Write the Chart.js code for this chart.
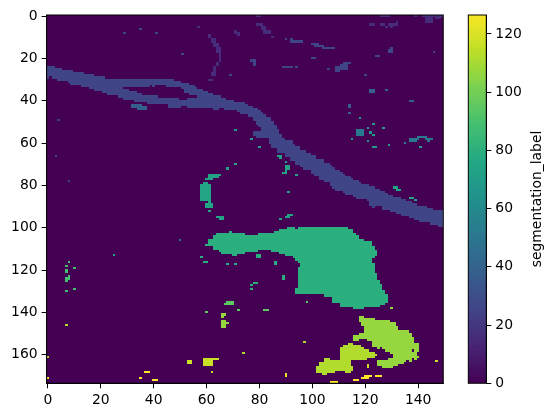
<!DOCTYPE html>
<html><head><meta charset="utf-8">
<style>html,body{margin:0;padding:0;background:#fff}canvas{position:absolute;left:0;top:0}</style>
<script src="https://cdn.jsdelivr.net/npm/chart.js@4"></script>
</head><body>
<canvas id="img" width="552" height="417"></canvas>
<canvas id="bar" width="552" height="417"></canvas>
<script>
const xTicks=[0,20,40,60,80,100,120,140];
const yTicks=[0,20,40,60,80,100,120,140,160];
const cbTicks=[0,20,40,60,80,100,120];
const nCols=150,nRows=174,cbMax=126.5,labelName='segmentation_label';
const viridisStops=['#440154','#482475','#414487','#355f8d','#2a788e','#21918c','#22a884','#44bf70','#7ad151','#bddf26','#fde725'];
// river outline: [end column, row]
const riverTop=[[3,24],[6,25],[10,26],[14,27],[18,28],[22,29],[48,30],[51,31],[54,32],[56,33],[57,34],[59,35],[61,36],[63,37],[66,38],[68,39],[71,40],[75,41],[76,42],[78,43],[80,44],[81,45],[82,46],[83,47],[85,48],[86,50],[87,52],[88,54],[89,56],[90,58],[93,59],[94,61],[96,62],[98,64],[100,65],[102,66],[105,68],[107,70],[108,71],[109,72],[111,73],[112,74],[113,75],[115,76],[116,77],[118,78],[119,79],[122,80],[124,81],[126,82],[128,83],[129,84],[131,85],[134,86],[136,87],[138,88],[140,89],[144,90],[146,91],[150,92]];
const riverBottom=[[1,30],[2,29],[4,30],[8,31],[9,32],[13,33],[16,34],[18,35],[21,36],[23,37],[27,38],[29,39],[33,40],[38,41],[46,42],[51,44],[53,43],[63,44],[65,45],[67,44],[72,45],[73,46],[76,47],[78,48],[79,50],[80,52],[81,53],[84,58],[85,61],[87,63],[90,65],[92,67],[94,69],[96,71],[97,72],[100,73],[101,75],[103,76],[105,78],[107,79],[108,81],[109,82],[112,83],[113,84],[116,85],[117,86],[121,87],[122,88],[123,90],[124,91],[127,90],[130,92],[132,93],[134,94],[137,95],[139,96],[141,97],[145,98],[148,99],[150,100]];
const riverGap=[[29,31,34,35],[31,34,34,36],[34,36,34,37],[36,39,34,38],[39,40,33,38],[40,41,34,38],[41,42,33,38],[42,45,33,39],[45,50,34,39],[50,51,34,40],[51,52,35,40],[52,53,37,40],[53,54,37,39],[54,57,38,39]];
// patches: [column from, column to, row from, row to]
const label16=[[57,58,5,6],[61,62,9,11],[62,64,11,13],[63,65,13,15],[64,66,15,18],[65,66,18,22],[64,65,22,24],[63,64,24,27],[62,64,27,29],[61,63,30,31],[71,72,7,9],[72,73,8,10],[79,82,4,5],[81,83,5,7],[82,85,7,9],[85,86,10,11],[79,81,0,1],[126,130,0,1],[139,140,0,1],[142,150,0,1],[143,146,1,4],[147,149,1,2],[122,124,4,5],[126,128,4,5],[128,129,5,6],[129,132,4,5],[130,131,5,6],[132,133,3,5]];
const label26=[[79,81,55,58],[78,79,55,57],[29,30,8,9],[35,36,6,7],[41,42,8,9],[51,52,18,19],[90,91,11,12],[92,93,11,13],[92,97,12,13],[77,79,21,22],[78,79,22,24],[89,93,24,25],[94,95,24,25],[69,70,28,29],[100,103,13,14],[101,105,14,15],[104,109,15,16],[100,102,20,21],[112,115,22,23],[111,114,23,24],[109,114,24,26],[109,111,26,27],[106,107,25,26],[120,121,28,29],[124,126,19,20],[129,131,16,18],[130,131,15,16],[146,147,17,18],[4,5,49,50],[3,4,66,67],[8,9,78,79]];
const label38=[[32,36,42,44],[34,38,43,45],[122,124,35,37],[128,129,35,36],[137,139,40,41],[114,115,42,44],[114,115,46,47]];
const label51=[[117,120,54,57],[137,140,58,60],[140,144,57,58],[140,141,58,59],[143,146,58,59],[144,145,59,60],[135,136,60,61],[50,51,106,107]];
const label68=[[118,119,48,49],[121,122,53,54],[123,124,51,52],[127,128,53,54],[122,123,55,56],[123,124,56,57],[115,116,58,59],[121,122,59,60],[123,125,62,63],[129,130,61,62],[141,142,62,63],[71,72,54,55],[77,78,58,59],[80,81,62,63]];
const label74=[[131,133,81,82],[132,134,82,83],[137,139,86,87],[139,140,87,88],[87,89,66,67],[88,89,67,68],[90,91,69,70],[90,92,71,73],[90,91,73,74],[89,91,74,75],[94,95,75,76],[91,92,83,84],[71,72,70,71],[68,69,72,73],[61,66,75,76],[61,65,76,77],[60,63,77,78],[59,61,79,80],[58,62,80,88],[61,62,88,89],[60,63,89,91],[61,62,92,93],[64,67,95,96],[65,67,96,97],[91,93,94,95],[90,92,95,96],[88,89,96,97],[25,26,113,114]];
const label80=[[60,61,108,109],[61,63,106,109],[63,64,104,111],[64,65,103,111],[65,66,103,112],[66,69,103,113],[69,70,102,113],[70,72,103,114],[72,75,103,113],[75,80,104,112],[80,85,103,111],[85,86,103,112],[86,88,102,112],[88,90,101,113],[90,91,101,114],[91,93,100,114],[93,94,100,115],[94,95,101,116],[95,96,100,117],[95,96,119,132],[94,95,129,132],[96,105,100,132],[105,108,100,133],[108,111,100,136],[111,114,100,138],[114,116,101,138],[116,117,103,139],[117,118,104,139],[118,120,106,139],[120,123,107,138],[123,124,109,115],[123,124,117,138],[124,125,111,114],[124,125,122,138],[125,126,125,138],[126,127,127,137],[127,128,130,137],[128,129,132,136],[58,59,114,115],[59,61,116,117],[68,69,117,118],[71,72,117,118],[79,81,113,115],[86,87,116,118],[89,90,123,125],[78,80,126,127],[77,78,127,128],[77,78,129,130]];
const label89=[[8,9,116,117],[7,8,118,119],[10,11,119,120],[7,8,120,122],[8,9,123,125],[7,8,124,126],[10,11,129,130],[7,8,130,131]];
const label95=[[68,71,135,137],[67,68,136,137],[98,99,135,136],[82,84,139,140],[72,73,139,140],[60,61,140,141]];
const label107=[[66,68,141,142],[66,67,142,143],[66,68,144,148],[68,69,145,146],[130,131,138,139],[116,118,151,154],[118,119,142,145],[118,119,150,153],[119,120,142,147],[119,120,150,153],[120,121,143,153],[121,123,143,154],[123,124,143,157],[124,125,144,157],[125,126,144,158],[126,127,144,157],[127,128,144,158],[128,130,144,159],[130,131,145,160],[125,127,163,166],[127,129,163,167],[129,130,162,167],[130,131,162,167],[131,132,145,166],[132,133,147,166],[133,135,149,165],[135,136,149,164],[136,137,149,163],[137,138,150,164],[138,139,152,158],[138,139,159,162],[139,140,155,163],[140,141,155,159],[140,141,161,162]];
const label112=[[102,103,166,169],[103,104,164,169],[104,105,164,170],[105,106,162,170],[106,107,162,169],[107,109,163,169],[109,111,163,168],[111,112,157,168],[112,113,156,168],[113,114,156,169],[114,115,155,169],[115,116,155,163],[115,116,166,168],[116,119,156,163],[119,120,157,163],[120,121,158,163],[121,122,158,162],[122,124,159,162],[124,125,160,161],[74,75,159,160],[97,98,154,155],[7,8,146,147],[0,1,161,162]];
const label117=[[59,63,162,166],[63,65,162,163],[53,55,163,165],[62,63,168,169],[121,122,165,167],[147,148,163,164]];
const label122=[[90,91,169,171]];
const label127=[[120,123,170,171],[119,122,171,172],[124,127,170,171],[116,118,172,173],[107,110,173,174],[0,1,171,172],[37,39,168,169],[35,36,171,172],[40,42,172,173]];

function viridis(v){
  const t=Math.max(0,Math.min(1,v/127))*(viridisStops.length-1),i=Math.min(Math.floor(t),viridisStops.length-2),f=t-i;
  const rgb=h=>[1,3,5].map(k=>parseInt(h.substr(k,2),16));
  const a=rgb(viridisStops[i]),b=rgb(viridisStops[i+1]);
  return 'rgb('+a.map((c,k)=>Math.round(c+(b[k]-c)*f)).join(',')+')';
}
const cell=(c,r0,r1)=>({x:c,y:[r0-0.5,r1-0.5]});
function stepAt(steps,c){for(const s of steps){if(c<s[0])return s[1];}return steps[steps.length-1][1];}
function riverCells(){
  const out=[];
  for(let c=0;c<nCols;c++){
    const t=stepAt(riverTop,c),b=stepAt(riverBottom,c);
    const g=riverGap.find(s=>c>=s[0]&&c<s[1]);
    if(g){out.push(cell(c,t,g[2]));out.push(cell(c,g[3],b));}
    else out.push(cell(c,t,b));
  }
  return out;
}
function patchCells(list){
  const out=[];
  list.forEach(p=>{for(let c=p[0];c<p[1];c++)out.push(cell(c,p[2],p[3]));});
  return out;
}
const common={barPercentage:1,categoryPercentage:1,grouped:false,borderWidth:0,inflateAmount:0};
const background=[];for(let c=0;c<nCols;c++)background.push(cell(c,0,nRows));
const layers=[[0,background],[26,riverCells().concat(patchCells(label26))],[16,patchCells(label16)],[38,patchCells(label38)],[51,patchCells(label51)],[68,patchCells(label68)],[74,patchCells(label74)],[80,patchCells(label80)],[89,patchCells(label89)],[95,patchCells(label95)],[107,patchCells(label107)],[112,patchCells(label112)],[117,patchCells(label117)],[122,patchCells(label122)],[127,patchCells(label127)]];
const tickFont={family:'"DejaVu Sans"',size:13.9};
const frame={id:'frame',afterDatasetsDraw(ch){const a=ch.chartArea,c=ch.ctx;c.save();c.strokeStyle='#000';c.lineWidth=1;c.strokeRect(a.left,a.top,a.right-a.left,a.bottom-a.top);c.restore();}};
// snap every bar to whole device pixels so cells stay crisp, as in a nearest-neighbour image
const snap={id:'snap',beforeDatasetsDraw(ch){
  ch.getSortedVisibleDatasetMetas().forEach(m=>m.data.forEach(el=>{
    if(el.horizontal){
      const t=Math.round(el.y-el.height/2),b=Math.round(el.y+el.height/2);
      el.y=(t+b)/2;el.height=b-t;el.x=Math.round(el.x);el.base=Math.round(el.base);
    }else{
      const l=Math.round(el.x-el.width/2),r=Math.round(el.x+el.width/2);
      el.x=(l+r)/2;el.width=r-l;el.y=Math.round(el.y);el.base=Math.round(el.base);
    }
  }));
}};
const axis=(vals,extra)=>Object.assign({
  type:'linear',offset:false,
  afterBuildTicks:s=>{s.ticks=vals.map(v=>({value:v}));},
  grid:{drawOnChartArea:false,drawTicks:true,tickLength:5,color:'#000',lineWidth:1,offset:false},
  border:{display:true,color:'#000',width:1},
  ticks:{color:'#000',font:tickFont,padding:4,maxRotation:0,autoSkip:false,callback:v=>String(v)}
},extra);
new Chart(document.getElementById('img'),{
  type:'bar',
  data:{datasets:layers.map((l,i)=>Object.assign({label:String(l[0]),data:l[1],backgroundColor:viridis(l[0]),order:100-i},common))},
  options:{responsive:false,animation:false,
    layout:{padding:{left:0,top:15,right:108.7,bottom:0}},
    plugins:{legend:{display:false},tooltip:{enabled:false}},
    scales:{
      x:axis(xTicks,{min:-0.5,max:nCols-0.5,afterFit:s=>{s.height=33.7;}}),
      y:axis(yTicks,{reverse:true,min:-0.5,max:nRows-0.5,afterFit:s=>{s.width=46.6;}})
    }},
  plugins:[snap,frame]
});
const levels=[];for(let v=0;v<127;v++)levels.push(v);
new Chart(document.getElementById('bar'),{
  type:'bar',
  data:{datasets:[{label:labelName,data:levels.map(v=>({x:[0,1],y:v+0.5})),backgroundColor:levels.map(v=>viridis(v+0.5)),barPercentage:1,categoryPercentage:1,borderWidth:0,inflateAmount:0}]},
  options:{responsive:false,animation:false,indexAxis:'y',
    layout:{padding:{left:468.3,top:15,right:0,bottom:33.7}},
    plugins:{legend:{display:false},tooltip:{enabled:false}},
    scales:{
      x:{type:'linear',display:false,min:0,max:1},
      y:axis(cbTicks,{position:'right',min:0,max:cbMax,afterFit:s=>{s.width=65.7;}})
    }},
  plugins:[snap,frame,{id:'cbTitle',afterDraw(ch){const c=ch.ctx;c.save();c.translate(537,199);c.rotate(-Math.PI/2);c.font='13.9px "DejaVu Sans"';c.fillStyle='#000';c.textAlign='center';c.textBaseline='middle';c.fillText(labelName,0,0);c.restore();}}]
});
</script>
</body></html>
